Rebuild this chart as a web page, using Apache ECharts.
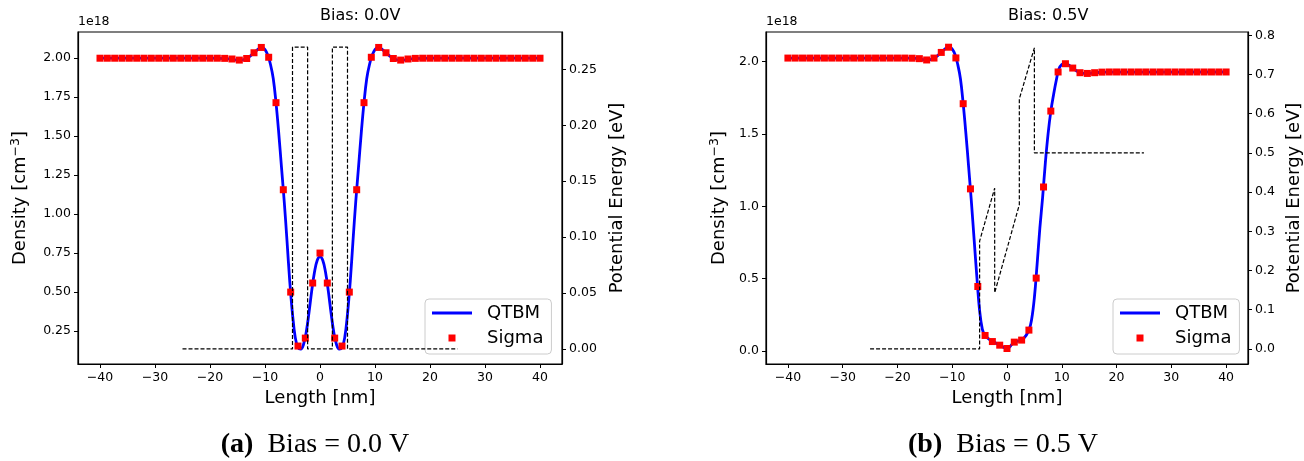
<!DOCTYPE html>
<html>
<head>
<meta charset="utf-8">
<script src="https://cdn.jsdelivr.net/npm/echarts@6/dist/echarts.min.js"></script>
<style>
  html, body { margin: 0; padding: 0; background: #fff; }
  #chart { width: 1304px; height: 461px; }
</style>
</head>
<body>
<div id="chart"></div>
<script>
// Sigma sample positions [nm]
const sigmaX = [-40, -38.67, -37.33, -36, -34.67, -33.33, -32, -30.67, -29.33, -28, -26.67, -25.33, -24, -22.67, -21.33, -20, -18.67,
  -17.33, -16, -14.67, -13.33, -12, -10.67, -9.33, -8, -6.67, -5.33, -4, -2.67, -1.33, 0, 1.33, 2.67, 4, 5.33, 6.67, 8, 9.33, 10.67,
  12, 13.33, 14.67, 16, 17.33, 18.67, 20, 21.33, 22.67, 24, 25.33, 26.67, 28, 29.33, 30.67, 32, 33.33, 34.67, 36, 37.33, 38.67, 40];

// 偏压 0.0V 密度 (1e18 cm^-3)
const sigmaBias0 = [2.00, 2.00, 2.00, 2.00, 2.00, 2.00, 2.00, 2.00, 2.00, 2.00, 2.00, 2.00, 2.00, 2.00, 2.00, 2.00, 2.00,
  1.999, 1.995, 1.988, 1.998, 2.035, 2.069, 2.006, 1.715, 1.157, 0.501, 0.155, 0.206, 0.559, 0.751, 0.559, 0.206, 0.155, 0.501,
  1.157, 1.715, 2.006, 2.069, 2.035, 1.998, 1.988, 1.995, 1.999, 2.00, 2.00, 2.00, 2.00, 2.00, 2.00, 2.00, 2.00, 2.00, 2.00,
  2.00, 2.00, 2.00, 2.00, 2.00, 2.00, 2.00];

const qtbmX0 = [-40, -20, -17, -15, -14, -13, -12, -11, -10.5, -10, -9.5, -9, -8.5, -8, -7.5, -7, -6.5, -6, -5.5, -5, -4.5, -4,
  -3.5, -3, -2.5, -2, -1.5, -1, -0.5, 0, 0.5, 1, 1.5, 2, 2.5, 3, 3.5, 4, 4.5, 5, 5.5, 6, 6.5, 7, 7.5, 8, 8.5, 9, 9.5, 10, 10.5,
  11, 12, 13, 14, 15, 17, 20, 40];
const qtbmBias0 = [2.00, 2.00, 1.997, 1.988, 1.99, 2.005, 2.035, 2.065, 2.07, 2.055, 2.02, 1.96, 1.87, 1.715, 1.52, 1.30, 1.08,
  0.83, 0.57, 0.36, 0.21, 0.145, 0.135, 0.165, 0.245, 0.37, 0.51, 0.63, 0.705, 0.728, 0.705, 0.63, 0.51, 0.37, 0.245, 0.165,
  0.135, 0.145, 0.21, 0.36, 0.57, 0.83, 1.08, 1.30, 1.52, 1.715, 1.87, 1.96, 2.02, 2.055, 2.07, 2.065, 2.035, 2.005, 1.99,
  1.988, 1.997, 2.00, 2.00];

// 偏压 0.5V 密度
const sigmaBias5 = [2.023, 2.023, 2.023, 2.023, 2.023, 2.023, 2.023, 2.023, 2.023, 2.023, 2.023, 2.023, 2.023, 2.023, 2.023, 2.023, 2.023,
  2.022, 2.019, 2.010, 2.023, 2.062, 2.098, 2.024, 1.708, 1.120, 0.446, 0.108, 0.066, 0.041, 0.018, 0.062, 0.076, 0.145, 0.504,
  1.133, 1.657, 1.927, 1.984, 1.954, 1.922, 1.917, 1.922, 1.926, 1.927, 1.927, 1.927, 1.927, 1.927, 1.927, 1.927, 1.927, 1.927,
  1.927, 1.927, 1.927, 1.927, 1.927, 1.927, 1.927, 1.927];

const qtbmX5 = [-40, -17, -16, -15, -14, -13, -12, -11, -10.5, -10, -9.5, -9, -8.5, -8, -7.5, -7, -6.5, -6, -5.5, -5, -4.5, -4,
  -3, -2, -1, 0, 1, 2, 3, 4, 4.5, 5, 5.5, 6, 6.5, 7, 7.5, 8, 8.5, 9, 9.5, 10, 10.5, 11, 12, 13, 14, 15, 16, 18, 40];
const qtbmBias5 = [2.023, 2.022, 2.017, 2.01, 2.012, 2.03, 2.063, 2.095, 2.10, 2.085, 2.05, 1.98, 1.88, 1.708, 1.50, 1.27, 1.03,
  0.77, 0.51, 0.28, 0.15, 0.108, 0.075, 0.055, 0.035, 0.015, 0.05, 0.07, 0.085, 0.145, 0.22, 0.37, 0.60, 0.85, 1.06, 1.30, 1.50,
  1.655, 1.77, 1.87, 1.95, 1.978, 1.985, 1.98, 1.955, 1.928, 1.918, 1.918, 1.922, 1.926, 1.927];

// 势能 [eV]
const potX = [-25, -5, -5, -2.25, -2.25, 2.25, 2.25, 5, 5, 25];
const potBias0 = [0, 0, 0.27, 0.27, 0, 0, 0.27, 0.27, 0, 0];
const potBias5 = [0, 0, 0.275, 0.41, 0.143, 0.368, 0.638, 0.768, 0.5, 0.5];

// 刻度
const xTicks = [-40, -30, -20, -10, 0, 10, 20, 30, 40];
const densTicks0 = [0.25, 0.5, 0.75, 1.0, 1.25, 1.5, 1.75, 2.0];
const potTicks0 = [0, 0.05, 0.1, 0.15, 0.2, 0.25];
const densTicks5 = [0, 0.5, 1.0, 1.5, 2.0];
const potTicks5 = [0, 0.1, 0.2, 0.3, 0.4, 0.5, 0.6, 0.7, 0.8];

const FONT = 'DejaVu Sans';
const pair = (xs, ys) => xs.map((x, i) => [x, ys[i]]);
const minus = s => String(s).replace('-', '\u2212');

const GRID_W = 484, GRID_TOP = 32, GRID_H = 332;
const grids = [{ left: 78 }, { left: 766 }];

function xAxisOf(gi) {
  return {
    type: 'value', gridIndex: gi, min: -44, max: 44,
    name: 'Length [nm]', nameLocation: 'middle', nameGap: 22,
    nameTextStyle: { fontFamily: FONT, fontSize: 18, color: '#000' },
    axisLine: { show: true, onZero: false, lineStyle: { color: '#000', width: 1.2 } },
    axisTick: { show: true, length: 4, customValues: xTicks, lineStyle: { color: '#000' } },
    axisLabel: { customValues: xTicks, margin: 7, fontFamily: FONT, fontSize: 12.5, color: '#000', formatter: v => minus(v) },
    splitLine: { show: false }
  };
}

function yAxisOf(gi, pos, min, max, ticks, digits, name, gap) {
  return {
    type: 'value', gridIndex: gi, position: pos, min, max,
    name, nameLocation: 'middle', nameRotate: 90, nameGap: gap,
    nameTextStyle: {
      fontFamily: FONT, fontSize: 18, color: '#000',
      rich: { sup: { fontFamily: FONT, fontSize: 12.5, verticalAlign: 'top', padding: [0, 0, 10, 0] } }
    },
    axisLine: { show: true, onZero: false, lineStyle: { color: '#000', width: 1.2 } },
    axisTick: { show: true, length: 4, customValues: ticks, lineStyle: { color: '#000' } },
    axisLabel: { customValues: ticks, margin: 7, fontFamily: FONT, fontSize: 12.5, color: '#000', formatter: v => v.toFixed(digits) },
    splitLine: { show: false }
  };
}

function densSeries(gi, name, data, isLine) {
  if (isLine) {
    return {
      name, type: 'line', xAxisIndex: gi, yAxisIndex: gi * 2, data, smooth: 0.4, symbol: 'none',
      lineStyle: { color: '#0000ff', width: 2.8 }, itemStyle: { color: '#0000ff' }, z: 3
    };
  }
  return {
    name, type: 'scatter', xAxisIndex: gi, yAxisIndex: gi * 2, data, symbol: 'rect', symbolSize: 7,
    itemStyle: { color: '#ff0000', opacity: 1 }, z: 4
  };
}

function potSeries(gi, data) {
  return {
    name: 'Potential', type: 'line', xAxisIndex: gi, yAxisIndex: gi * 2 + 1, data, symbol: 'none',
    lineStyle: { color: '#000', width: 1.2, type: [4, 2] }, z: 5, silent: true
  };
}

// 图例: 线段 + 小方块
function legendOf(left) {
  return {
    data: [
      { name: 'QTBM', icon: 'path://M0,0L40,0L40,3L0,3Z' },
      { name: 'Sigma', icon: 'path://M0,0L10,0L10,10L0,10Z' }
    ],
    orient: 'vertical', left, top: 299, symbolKeepAspect: true,
    itemWidth: 40, itemHeight: 7, itemGap: 5,
    padding: [4, 8, 6, 7], borderColor: '#cccccc', borderWidth: 1, borderRadius: 4, backgroundColor: '#fff',
    formatter: n => '{g|}' + n,
    textStyle: { fontFamily: FONT, fontSize: 18, color: '#000', lineHeight: 20, rich: { g: { width: 10 } } }
  };
}

function caption(x, tag, text) {
  return {
    type: 'text', x, y: 445,
    style: {
      text: '{b|' + tag + '}  ' + text, align: 'center', verticalAlign: 'middle',
      font: '28px "Liberation Serif"', fill: '#000',
      rich: { b: { fontFamily: 'Liberation Serif', fontSize: 28, fontWeight: 'bold' } }
    }
  };
}

const chart = echarts.init(document.getElementById('chart'));
chart.setOption({
  animation: false,
  backgroundColor: '#fff',
  grid: grids.map(g => ({ left: g.left, top: GRID_TOP, width: GRID_W, height: GRID_H, show: true, borderColor: '#000', borderWidth: 1.2 })),
  xAxis: [xAxisOf(0), xAxisOf(1)],
  yAxis: [
    yAxisOf(0, 'left', 0.04, 2.168, densTicks0, 2, 'Density [cm{sup|\u22123}]', 46),
    yAxisOf(0, 'right', -0.0135, 0.2835, potTicks0, 2, 'Potential Energy [eV]', 46),
    yAxisOf(1, 'left', -0.089, 2.203, densTicks5, 1, 'Density [cm{sup|\u22123}]', 35),
    yAxisOf(1, 'right', -0.0385, 0.8085, potTicks5, 1, 'Potential Energy [eV]', 37)
  ],
  legend: [legendOf(425), legendOf(1113)],
  series: [
    densSeries(0, 'QTBM', pair(qtbmX0, qtbmBias0), true),
    densSeries(0, 'Sigma', pair(sigmaX, sigmaBias0), false),
    potSeries(0, pair(potX, potBias0)),
    densSeries(1, 'QTBM', pair(qtbmX5, qtbmBias5), true),
    densSeries(1, 'Sigma', pair(sigmaX, sigmaBias5), false),
    potSeries(1, pair(potX, potBias5))
  ],
  graphic: [
    { type: 'text', left: 78 + GRID_W / 2, top: 8, style: { text: 'Bias: 0.0V', font: '16px "DejaVu Sans"', fill: '#000', align: 'center' } },
    { type: 'text', left: 766 + GRID_W / 2, top: 8, style: { text: 'Bias: 0.5V', font: '16px "DejaVu Sans"', fill: '#000', align: 'center' } },
    { type: 'text', left: 78, top: 15, style: { text: '1e18', font: '12.5px "DejaVu Sans"', fill: '#000' } },
    { type: 'text', left: 766, top: 15, style: { text: '1e18', font: '12.5px "DejaVu Sans"', fill: '#000' } },
    caption(315, '(a)', 'Bias = 0.0 V'),
    caption(1003, '(b)', 'Bias = 0.5 V')
  ]
});
</script>
</body>
</html>
